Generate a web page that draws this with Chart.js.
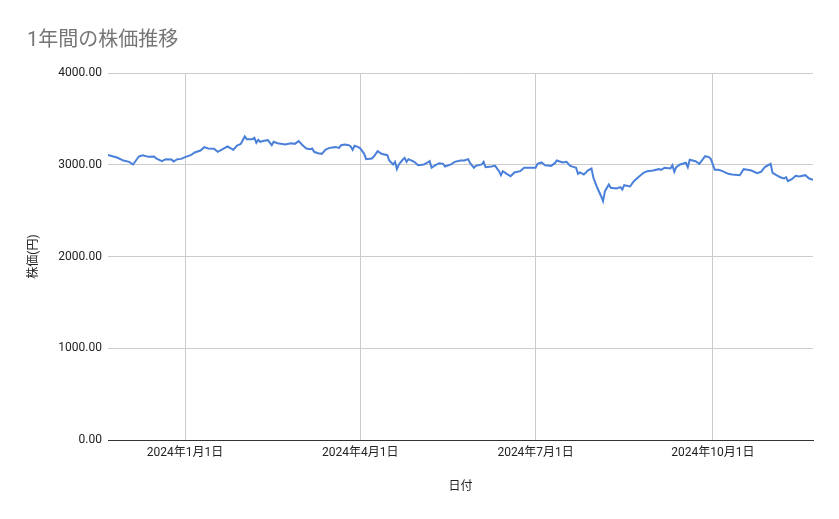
<!DOCTYPE html>
<html><head><meta charset="utf-8">
<script src="https://cdn.jsdelivr.net/npm/chart.js@4.4.1/dist/chart.umd.min.js"></script>
<style>html,body{margin:0;padding:0;background:#fff}</style>
</head><body>
<canvas id="c" width="839" height="519"></canvas>
<script>
const chartTitle = '1年間の株価推移';
const xAxisTitle = '日付';
const yAxisTitle = '株価(円)';
// days since 2023-11-22
const dayOffsets = [0,5,8,11,13,16,18,21,24,25,28,30,33,34,36,38,40,43,45,48,50,52,55,57,60,62,64,65,67,69,71,72,75,76,77,78,79,81,83,85,86,88,92,95,97,99,101,103,105,106,107,109,111,113,115,118,120,121,123,125,126,127,128,130,131,133,134,137,138,140,142,145,146,148,149,150,151,153,154,155,156,159,161,164,166,167,168,170,172,174,175,178,180,183,185,187,188,190,191,194,195,196,199,201,203,204,205,207,209,211,214,216,218,222,223,225,227,230,232,233,236,238,240,242,243,244,245,247,248,249,251,252,254,256,257,258,260,261,264,266,267,268,271,273,275,278,280,283,286,287,289,292,293,294,295,297,300,301,302,305,307,310,312,313,315,317,319,322,324,328,330,332,334,337,339,341,344,345,347,349,351,352,353,355,357,359,362,364,366];
const prices = [3108,3076,3046,3032,3003,3090,3104,3086,3090,3068,3039,3061,3057,3035,3061,3064,3083,3104,3134,3155,3192,3177,3174,3141,3177,3199,3177,3162,3210,3228,3308,3279,3279,3294,3239,3272,3250,3261,3268,3213,3250,3235,3221,3235,3228,3257,3213,3177,3170,3177,3141,3126,3119,3166,3184,3192,3184,3213,3221,3213,3199,3162,3206,3192,3177,3119,3061,3068,3090,3148,3119,3104,3046,3003,3032,2952,3003,3054,3075,3032,3061,3032,2995,3003,3025,3039,2967,2995,3017,3010,2981,3003,3032,3046,3046,3061,3017,2967,2988,3003,3032,2974,2981,2988,2930,2886,2930,2901,2875,2916,2930,2967,2967,2967,3010,3025,2995,2988,3017,3046,3025,3032,2988,2974,2967,2901,2916,2894,2912,2937,2959,2858,2749,2657,2603,2712,2785,2749,2741,2756,2730,2777,2763,2821,2858,2912,2930,2937,2952,2945,2967,2959,2995,2923,2974,3003,3021,2974,3054,3039,3010,3093,3083,3061,2945,2945,2930,2901,2894,2886,2952,2945,2937,2908,2923,2974,3010,2912,2886,2864,2850,2864,2821,2843,2879,2872,2886,2850,2835];
const tickDays = [40,131,222,314];
const tickLabels = ['2024年1月1日','2024年4月1日','2024年7月1日','2024年10月1日'];
const yTicks = [0,1000,2000,3000,4000];

const fam = "Roboto, 'Noto Sans CJK JP', sans-serif";
new Chart(document.getElementById('c'), {
  type: 'line',
  data: { datasets: [{
    data: dayOffsets.map((d, i) => ({ x: d, y: prices[i] })),
    borderColor: '#4a80d9', borderWidth: 2, pointRadius: 0, tension: 0, fill: false
  }]},
  options: {
    responsive: false, animation: false, devicePixelRatio: 1,
    layout: { padding: { left: 27, right: 26, top: 0, bottom: 0 } },
    plugins: {
      legend: { display: false }, tooltip: { enabled: false },
      title: { display: true, text: chartTitle, align: 'start', color: '#757575',
        font: { family: fam, size: 20, weight: 'normal' }, padding: { top: 29, bottom: 20 } }
    },
    scales: {
      x: {
        type: 'linear', min: 0, max: 366,
        afterBuildTicks(s) { s.ticks = tickDays.map(v => ({ value: v })); },
        afterFit(s) { s.height = 79; },
        ticks: { callback: v => { const i = tickDays.indexOf(v); return i >= 0 ? tickLabels[i] : ''; },
          color: '#222', font: { family: fam, size: 12 }, padding: 6, maxRotation: 0, autoSkip: false },
        grid: { color: '#cccccc', drawTicks: false, lineWidth: 1 },
        border: { display: true, color: '#333', width: 1 },
        title: { display: true, text: xAxisTitle, color: '#222', font: { family: fam, size: 12 }, padding: { top: 0, bottom: 25 } }
      },
      y: {
        min: 0, max: 4000,
        afterBuildTicks(s) { s.ticks = yTicks.map(v => ({ value: v })); },
        afterFit(s) { s.width = 81; },
        ticks: { callback: v => Number(v).toFixed(2), color: '#222', font: { family: fam, size: 12 }, padding: 6 },
        grid: { color: c => (c.tick && c.tick.value === 0) ? '#333' : '#cccccc', drawTicks: false },
        border: { display: false },
        title: { display: true, text: yAxisTitle, color: '#222', font: { family: fam, size: 12 }, padding: { top: 0, bottom: 0 } }
      }
    }
  }
});
</script>
</body></html>
